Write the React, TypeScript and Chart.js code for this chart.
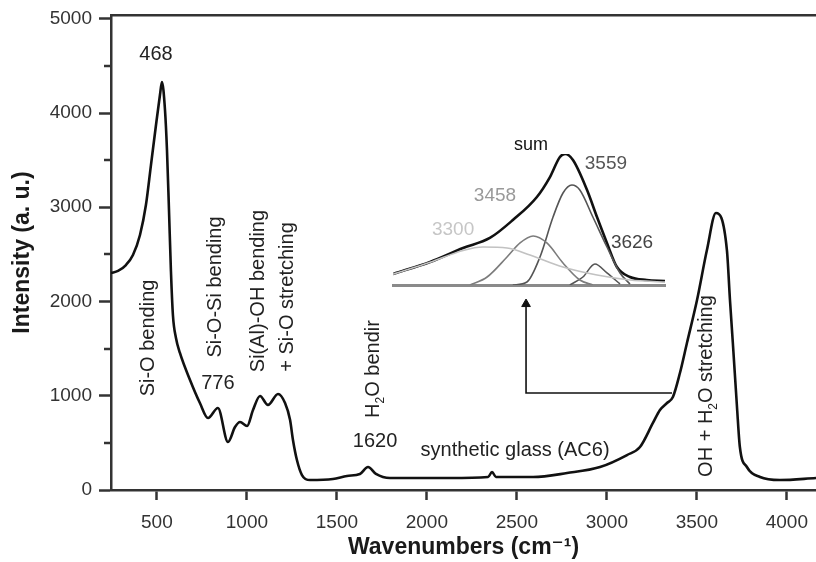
import React, { useEffect, useRef } from "react";
import { Chart, registerables } from "chart.js";

Chart.register(...registerables);

const FONT = "'Liberation Sans', Arial, 'DejaVu Sans', sans-serif";

// Main Raman/IR spectrum (wavenumber, intensity)
const wavenumbers = [
  245, 284, 328, 367, 406, 439, 467, 495, 517, 528, 545, 556, 567, 578, 589, 606, 628, 684, 739, 784,
  839, 895, 934, 962, 1001, 1034, 1073, 1117, 1173, 1212, 1240, 1256, 1278, 1306, 1351, 1478,
  1556, 1628, 1673, 1717, 1795, 1923, 2128, 2340, 2362, 2384, 2590, 2779, 2962, 3112, 3184,
  3256, 3295, 3334, 3367, 3406, 3445, 3501, 3556, 3606, 3667, 3684, 3700, 3723, 3739, 3778,
  3851, 3962, 4162,
];
const intensity = [
  2302, 2324, 2387, 2493, 2706, 3024, 3448, 3873, 4191, 4329, 4032, 3607, 2981, 2323, 1857, 1613, 1454,
  1167, 923, 764, 870, 509, 668, 721, 679, 849, 997, 902, 1019, 923, 743, 531, 318, 159, 106, 117,
  149, 170, 244, 170, 127, 127, 127, 138, 191, 138, 138, 180, 244, 371, 456, 711, 849, 923, 987,
  1241, 1560, 2016, 2546, 2939, 2546, 2016, 1560, 881, 456, 244, 138, 106, 127,
];

// Arrow pointing from the OH shoulder to the inset
const arrowX = [3362, 2551, 2551];
const arrowY = [1029, 1029, 1973];

const xTicks = [500, 1000, 1500, 2000, 2500, 3000, 3500, 4000];
const yTicks = [0, 1000, 2000, 3000, 4000, 5000];
const yMinorTicks = [500, 1500, 2500, 3500, 4500];

// Inset: band deconvolution of OH + H2O stretching region
const insetSumX = [3038, 3146, 3242, 3320, 3387, 3457, 3495, 3524, 3539, 3562, 3603, 3632, 3661, 3690, 3728, 3777, 3830];
const insetSumY = [0.084, 0.176, 0.282, 0.359, 0.496, 0.672, 0.824, 0.977, 1.0, 0.954, 0.725, 0.519, 0.321, 0.137, 0.061, 0.038, 0.031];
const band3300X = [3038, 3146, 3242, 3300, 3370, 3437, 3533, 3632, 3728, 3830];
const band3300Y = [0.083, 0.174, 0.264, 0.29, 0.282, 0.229, 0.137, 0.076, 0.038, 0.023];
const band3458X = [3262, 3312, 3370, 3408, 3446, 3486, 3533, 3582, 3620];
const band3458Y = [0, 0.061, 0.214, 0.321, 0.374, 0.321, 0.168, 0.038, 0];
const band3559X = [3387, 3428, 3466, 3504, 3533, 3559, 3582, 3620, 3661, 3699, 3728];
const band3559Y = [0, 0.023, 0.214, 0.519, 0.702, 0.763, 0.725, 0.519, 0.29, 0.092, 0.008];
const band3626X = [3553, 3591, 3626, 3661, 3699];
const band3626Y = [0, 0.061, 0.16, 0.092, 0.008];

// Annotation texts anchored in data coordinates
const mainLabels = [
  { text: "468", x: 495, y: 4626, rotated: false },
  { text: "Si-O bending", x: 456, y: 1613, rotated: true },
  { text: "Si-O-Si bending", x: 828, y: 2154, rotated: true },
  { text: "776", x: 839, y: 1135, rotated: false },
  { text: "Si(Al)-OH bending", x: 1067, y: 2111, rotated: true },
  { text: "+ Si-O stretching", x: 1223, y: 2048, rotated: true },
  { text: "H₂O bendir", x: 1706, y: 1284, rotated: true },
  { text: "1620", x: 1712, y: 520, rotated: false },
  { text: "synthetic glass (AC6)", x: 2490, y: 424, rotated: false },
  { text: "OH + H₂O stretching", x: 3556, y: 1103, rotated: true },
];

const insetLabels = [
  { text: "sum", x: 3440, y: 1.069, color: "#111", size: 18 },
  { text: "3559", x: 3658, y: 0.924, color: "#555", size: 19 },
  { text: "3458", x: 3335, y: 0.679, color: "#999", size: 19 },
  { text: "3300", x: 3213, y: 0.42, color: "#c6c6c6", size: 19 },
  { text: "3626", x: 3734, y: 0.321, color: "#444", size: 19 },
];

const toPoints = (xs: number[], ys: number[]) => xs.map((x, i) => ({ x, y: ys[i] }));

function drawRich(
  ctx: CanvasRenderingContext2D,
  text: string,
  x: number,
  y: number,
  size: number,
  rotated: boolean,
  color: string
) {
  const segs: { s: string; sub: boolean; w: number }[] = [];
  let cur = "";
  for (const ch of text) {
    if (ch === "₂") {
      if (cur) segs.push({ s: cur, sub: false, w: 0 });
      segs.push({ s: "2", sub: true, w: 0 });
      cur = "";
    } else cur += ch;
  }
  if (cur) segs.push({ s: cur, sub: false, w: 0 });
  const mainFont = `${size}px ${FONT}`;
  const subFont = `${Math.round(size * 0.62)}px ${FONT}`;
  let total = 0;
  for (const sg of segs) {
    ctx.font = sg.sub ? subFont : mainFont;
    sg.w = ctx.measureText(sg.s).width;
    total += sg.w;
  }
  ctx.save();
  ctx.translate(x, y);
  if (rotated) ctx.rotate(-Math.PI / 2);
  ctx.fillStyle = color;
  ctx.textBaseline = "middle";
  ctx.textAlign = "left";
  let cx = -total / 2;
  for (const sg of segs) {
    ctx.font = sg.sub ? subFont : mainFont;
    ctx.fillText(sg.s, cx, sg.sub ? size * 0.32 : 0);
    cx += sg.w;
  }
  ctx.restore();
}

const mainDecor = {
  id: "mainDecor",
  afterDraw(chart: any) {
    const { ctx, chartArea, scales } = chart;
    ctx.save();
    ctx.strokeStyle = "#333";
    ctx.lineWidth = 2.5;
    for (const v of yMinorTicks) {
      const py = Math.round(scales.y.getPixelForValue(v));
      ctx.beginPath();
      ctx.moveTo(chartArea.left - 7, py);
      ctx.lineTo(chartArea.left, py);
      ctx.stroke();
    }
    ctx.restore();
    for (const l of mainLabels) {
      drawRich(ctx, l.text, scales.x.getPixelForValue(l.x), scales.y.getPixelForValue(l.y), 20, l.rotated, "#222");
    }
  },
};

const insetDecor = {
  id: "insetDecor",
  afterDraw(chart: any) {
    const { ctx, scales } = chart;
    for (const l of insetLabels) {
      drawRich(ctx, l.text, scales.x.getPixelForValue(l.x), scales.y.getPixelForValue(l.y), l.size, false, l.color);
    }
  },
};

const noPad = (s: any) => {
  s.paddingLeft = 0;
  s.paddingRight = 0;
  s.paddingTop = 0;
  s.paddingBottom = 0;
};

export default function App() {
  const mainRef = useRef<HTMLCanvasElement>(null);
  const insetRef = useRef<HTMLCanvasElement>(null);

  useEffect(() => {
    const main = new Chart(mainRef.current!, {
      type: "line",
      data: {
        datasets: [
          {
            data: toPoints(wavenumbers, intensity),
            borderColor: "#111",
            borderWidth: 2.6,
            pointRadius: 0,
            cubicInterpolationMode: "monotone",
            fill: false,
          },
          {
            data: toPoints(arrowX, arrowY),
            borderColor: "#111",
            borderWidth: 1.6,
            tension: 0,
            pointRadius: [0, 0, 5],
            pointStyle: "triangle",
            pointBackgroundColor: "#111",
            pointBorderColor: "#111",
            pointBorderWidth: 1,
            fill: false,
          },
        ],
      },
      options: {
        animation: false,
        responsive: false,
        layout: { autoPadding: false, padding: { top: 15, right: 0, left: 0, bottom: 0 } },
        plugins: { legend: { display: false }, tooltip: { enabled: false } },
        scales: {
          x: {
            type: "linear",
            position: "bottom",
            min: 245,
            max: 4162,
            afterBuildTicks: (s: any) => {
              s.ticks = xTicks.map((v) => ({ value: v }));
            },
            afterFit: (s: any) => {
              s.height = 72;
              noPad(s);
            },
            ticks: {
              font: { size: 19, family: FONT },
              color: "#333",
              padding: 11,
              maxRotation: 0,
              autoSkip: false,
              callback: (v: any) => String(v),
            },
            grid: {
              display: true,
              drawOnChartArea: false,
              drawTicks: true,
              tickLength: 10,
              tickWidth: 2.5,
              tickColor: "#333",
            },
            border: { display: true, color: "#333", width: 2.5 },
            title: {
              display: true,
              text: "Wavenumbers (cm⁻¹)",
              font: { size: 23, weight: "bold", family: FONT },
              color: "#1a1a1a",
              padding: { top: 0, bottom: 1 },
            },
          },
          xTop: {
            type: "linear",
            position: "top",
            min: 245,
            max: 4162,
            afterBuildTicks: (s: any) => {
              s.ticks = [];
            },
            afterFit: (s: any) => {
              s.height = 0;
              noPad(s);
            },
            ticks: { display: false },
            grid: { display: true, drawOnChartArea: false, drawTicks: false },
            border: { display: true, color: "#333", width: 2.5 },
          },
          y: {
            type: "linear",
            min: 0,
            max: 5040,
            afterBuildTicks: (s: any) => {
              s.ticks = yTicks.map((v) => ({ value: v }));
            },
            afterFit: (s: any) => {
              s.width = 111;
              noPad(s);
            },
            ticks: {
              font: { size: 19, family: FONT },
              color: "#333",
              padding: 7,
              callback: (v: any) => String(v),
            },
            grid: {
              display: true,
              drawOnChartArea: false,
              drawTicks: true,
              tickLength: 12,
              tickWidth: 2.5,
              tickColor: "#333",
            },
            border: { display: true, color: "#333", width: 2.5 },
            title: {
              display: true,
              text: "Intensity (a. u.)",
              font: { size: 23, weight: "bold", family: FONT },
              color: "#1a1a1a",
              padding: { top: 9, bottom: 0 },
            },
          },
        },
      } as any,
      plugins: [mainDecor],
    });

    const band = (xs: number[], ys: number[], color: string, width: number) => ({
      data: toPoints(xs, ys),
      borderColor: color,
      borderWidth: width,
      pointRadius: 0,
      cubicInterpolationMode: "monotone" as const,
      fill: false,
    });

    const inset = new Chart(insetRef.current!, {
      type: "line",
      data: {
        datasets: [
          band(band3300X, band3300Y, "#c2c2c2", 1.6),
          band(band3458X, band3458Y, "#7c7c7c", 1.6),
          band(band3559X, band3559Y, "#555", 1.6),
          band(band3626X, band3626Y, "#555", 1.6),
          band(insetSumX, insetSumY, "#111", 2.6),
        ],
      },
      options: {
        animation: false,
        responsive: false,
        layout: { autoPadding: false, padding: { left: 13, right: 15, top: 24, bottom: 15 } },
        plugins: { legend: { display: false }, tooltip: { enabled: false } },
        scales: {
          x: {
            type: "linear",
            min: 3038,
            max: 3830,
            afterBuildTicks: (s: any) => {
              s.ticks = [];
            },
            afterFit: (s: any) => {
              s.height = 0;
              noPad(s);
            },
            ticks: { display: false },
            grid: { display: true, drawOnChartArea: false, drawTicks: false },
            border: { display: true, color: "#8a8a8a", width: 3 },
          },
          y: { type: "linear", min: 0, max: 1, display: false },
        },
      } as any,
      plugins: [insetDecor],
    });

    return () => {
      main.destroy();
      inset.destroy();
    };
  }, []);

  return (
    <div
      style={{
        position: "fixed",
        left: 0,
        top: 0,
        width: 816,
        height: 562,
        background: "#fff",
        overflow: "hidden",
      }}
    >
      <canvas
        ref={mainRef}
        width={816}
        height={562}
        style={{ position: "absolute", left: 0, top: 0, width: 816, height: 562 }}
      />
      <canvas
        ref={insetRef}
        width={300}
        height={170}
        style={{ position: "absolute", left: 380, top: 130, width: 300, height: 170 }}
      />
    </div>
  );
}
